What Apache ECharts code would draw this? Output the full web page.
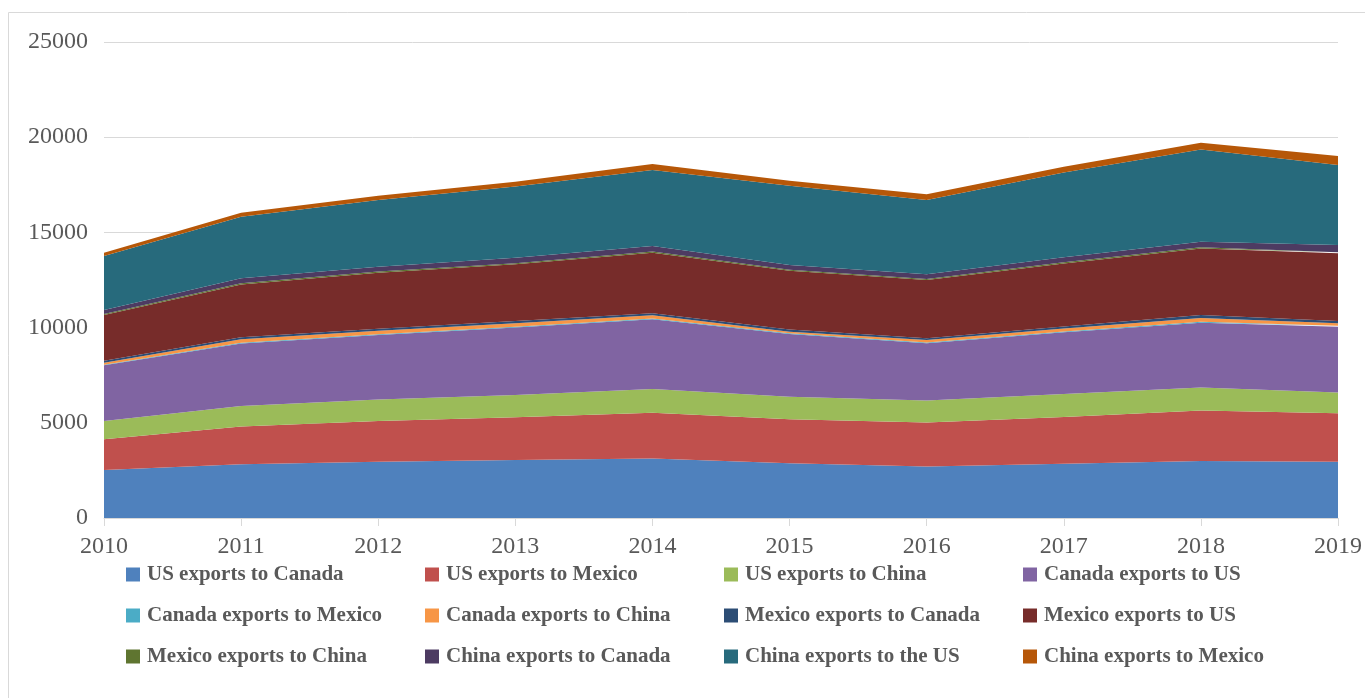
<!DOCTYPE html>
<html>
<head>
<meta charset="utf-8">
<script src="https://cdn.jsdelivr.net/npm/echarts@6/dist/echarts.min.js"></script>
<style>
  html, body { margin: 0; padding: 0; background: #fff; }
  #chart { width: 1365px; height: 698px; }
</style>
</head>
<body>
<div id="chart"></div>
<script>
// years on the x axis
const years = ['2010', '2011', '2012', '2013', '2014', '2015', '2016', '2017', '2018', '2019'];

// series values (bottom to top)
const usToCanada      = [2520, 2820, 2960, 3050, 3130, 2870, 2700, 2850, 2995, 2960];
const usToMexico      = [1610, 1980, 2130, 2240, 2400, 2310, 2310, 2455, 2645, 2540];
const usToChina       = [960, 1080, 1140, 1170, 1245, 1190, 1155, 1205, 1220, 1085];
const canadaToUs      = [2930, 3290, 3380, 3540, 3660, 3295, 3010, 3240, 3400, 3465];
const canadaToMexico  = [30, 40, 45, 45, 45, 40, 40, 45, 50, 45];
const canadaToChina   = [110, 175, 185, 180, 165, 80, 135, 155, 200, 130];
const mexicoToCanada  = [100, 105, 100, 120, 105, 120, 85, 110, 150, 120];
const mexicoToUs      = [2400, 2780, 2945, 2980, 3185, 3080, 3065, 3310, 3500, 3555];
const mexicoToChina   = [50, 60, 60, 60, 60, 55, 55, 60, 60, 60];
const chinaToCanada   = [210, 260, 255, 290, 290, 245, 245, 260, 290, 380];
const chinaToUs       = [2840, 3230, 3500, 3730, 3990, 4170, 3900, 4460, 4850, 4200];
const chinaToMexico   = [170, 210, 230, 260, 315, 260, 300, 300, 350, 470];

const seriesNames = [
    'US exports to Canada', 'US exports to Mexico', 'US exports to China', 'Canada exports to US',
    'Canada exports to Mexico', 'Canada exports to China', 'Mexico exports to Canada', 'Mexico exports to US',
    'Mexico exports to China', 'China exports to Canada', 'China exports to the US', 'China exports to Mexico'
];
const seriesData = [
    usToCanada, usToMexico, usToChina, canadaToUs,
    canadaToMexico, canadaToChina, mexicoToCanada, mexicoToUs,
    mexicoToChina, chinaToCanada, chinaToUs, chinaToMexico
];
const colors = [
    '#4F81BD', '#C0504D', '#9BBB59', '#8064A2',
    '#4BACC6', '#F79646', '#2C4D75', '#772C2A',
    '#5F7530', '#4D3B62', '#276A7C', '#B65708'
];

const font = '"Liberation Serif", "Times New Roman", serif';
const chart = echarts.init(document.getElementById('chart'));

// one legend per item so the 4x3 grid lines up in columns
const legends = seriesNames.map((name, i) => ({
    data: [name],
    left: 126 + (i % 4) * 299,
    top: 564 + Math.floor(i / 4) * 41,
    orient: 'horizontal',
    icon: 'rect',
    itemWidth: 14,
    itemHeight: 14,
    itemGap: 0,
    padding: 0,
    selectedMode: false,
    textStyle: { fontFamily: font, fontWeight: 'bold', fontSize: 21, color: '#595959', padding: [0, 0, 0, 2] }
}));

const option = {
    animation: false,
    color: colors,
    graphic: [{
        type: 'rect',
        shape: { x: 8.5, y: 12.5, width: 1400, height: 720 },
        style: { fill: 'none', stroke: '#D9D9D9', lineWidth: 1 },
        silent: true
    }],
    legend: legends,
    grid: { left: 104, right: 27, top: 42, bottom: 180 },
    xAxis: {
        type: 'category',
        data: years,
        boundaryGap: false,
        axisLine: { lineStyle: { color: '#D9D9D9', width: 1 } },
        axisTick: { show: true, length: 8, alignWithLabel: true, lineStyle: { color: '#D9D9D9' } },
        axisLabel: { fontFamily: font, fontSize: 24, color: '#595959', margin: 17 }
    },
    yAxis: {
        type: 'value',
        min: 0,
        max: 25000,
        interval: 5000,
        axisLine: { show: false },
        axisTick: { show: false },
        splitLine: { lineStyle: { color: '#D9D9D9', width: 1 } },
        axisLabel: { fontFamily: font, fontSize: 24, color: '#595959', margin: 16, formatter: v => String(v) }
    },
    series: seriesNames.map((name, i) => ({
        name: name,
        type: 'line',
        stack: 'total',
        data: seriesData[i],
        symbol: 'none',
        lineStyle: { width: 0 },
        areaStyle: { color: colors[i], opacity: 1 },
        itemStyle: { color: colors[i] }
    }))
};

chart.setOption(option);
</script>
</body>
</html>
